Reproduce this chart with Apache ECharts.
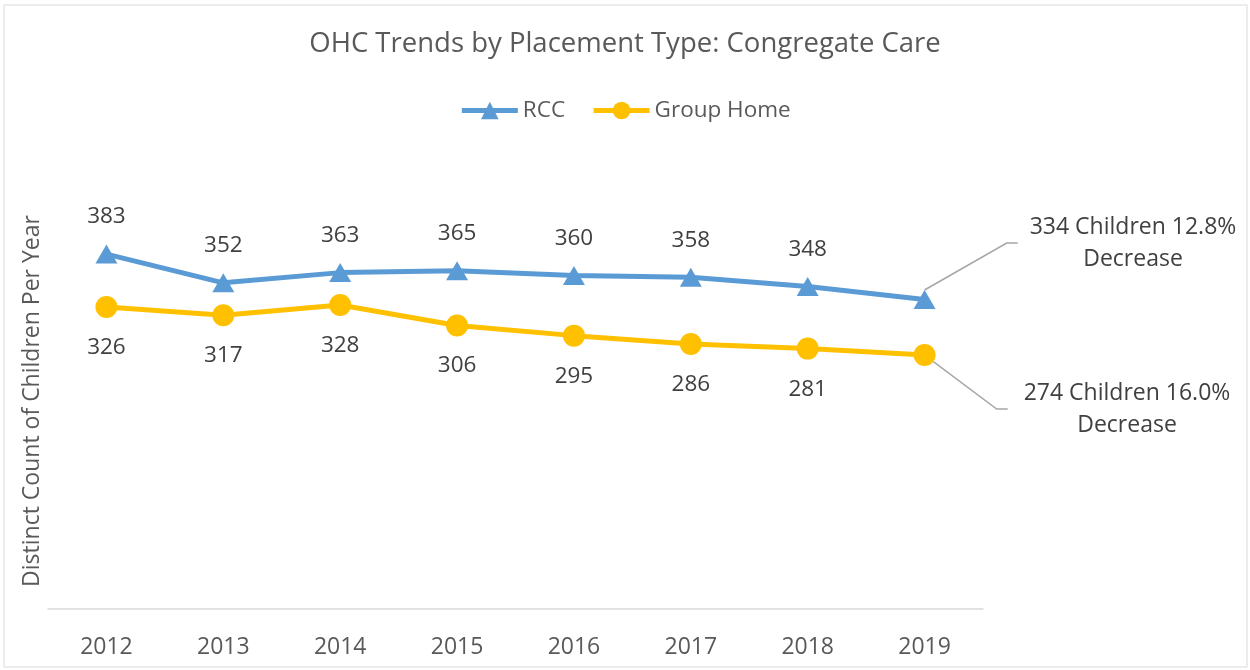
<!DOCTYPE html>
<html>
<head>
<meta charset="utf-8">
<script src="https://cdn.jsdelivr.net/npm/echarts@6/dist/echarts.min.js"></script>
<style>
  html, body { margin: 0; padding: 0; background: #fff; }
  #chart-container { width: 1250px; height: 670px; }
</style>
</head>
<body>
<div id="chart-container"></div>
<script>
// data
var years = ['2012', '2013', '2014', '2015', '2016', '2017', '2018', '2019'];
var rccValues = [383, 352, 363, 365, 360, 358, 348, 334];
var groupHomeValues = [326, 317, 328, 306, 295, 286, 281, 274];
var rccNote = '334 Children 12.8%\nDecrease';
var groupHomeNote = '274 Children 16.0%\nDecrease';

var textColor = '#595959';
var fontFamily = '"Open Sans", sans-serif';

var dom = document.getElementById('chart-container');
var myChart = echarts.init(dom, null, {
    renderer: 'canvas',
    useDirtyRect: false
});

// last point carries the callout text
function buildData(values, note, gap) {
    return values.map(function (v, i) {
        if (i === values.length - 1) {
            return {
                value: v,
                label: { formatter: note, align: 'center', lineHeight: 32, fontSize: 23, padding: [0, gap] },
                labelLine: { show: true, length2: 11, lineStyle: { color: '#A6A6A6', width: 1.5 } }
            };
        }
        return v;
    });
}

var option = {
    animation: false,
    textStyle: { fontFamily: fontFamily },
    title: {
        text: 'OHC Trends by Placement Type: Congregate Care',
        left: 'center',
        top: 25,
        textStyle: {
            fontFamily: fontFamily,
            fontSize: 27.5,
            fontWeight: 'normal',
            color: textColor
        }
    },
    legend: {
        top: 94,
        left: 'center',
        itemWidth: 56,
        itemHeight: 22,
        itemGap: 26,
        lineStyle: { width: 5 },
        textStyle: { fontFamily: fontFamily, fontSize: 22.5, color: textColor }
    },
    graphic: [
        {
            type: 'rect',
            shape: { x: 4, y: 5, width: 1243, height: 662 },
            style: { fill: 'none', stroke: '#D9D9D9', lineWidth: 1 },
            silent: true,
            z: -1
        },
        {
            type: 'text',
            x: 32,
            y: 401,
            rotation: Math.PI / 2,
            style: {
                text: 'Distinct Count of Children Per Year',
                fontFamily: fontFamily,
                fontSize: 23,
                fill: textColor,
                align: 'center',
                verticalAlign: 'middle'
            }
        }
    ],
    grid: {
        left: 48,
        right: 267,
        top: 53,
        bottom: 61
    },
    xAxis: {
        type: 'category',
        data: years,
        boundaryGap: true,
        axisLine: { lineStyle: { color: '#D9D9D9', width: 1.5 } },
        axisTick: { show: false },
        axisLabel: {
            margin: 27,
            fontSize: 23,
            color: textColor,
            fontFamily: fontFamily
        }
    },
    yAxis: {
        type: 'value',
        min: 0,
        max: 600,
        axisLine: { show: false },
        axisTick: { show: false },
        axisLabel: { show: false },
        splitLine: { show: false }
    },
    series: [
        {
            name: 'RCC',
            type: 'line',
            data: buildData(rccValues, rccNote, 12),
            symbol: 'triangle',
            symbolSize: [22, 19],
            itemStyle: { color: '#5B9BD5' },
            lineStyle: { color: '#5B9BD5', width: 5 },
            label: {
                show: true,
                position: 'top',
                distance: 16,
                fontSize: 22.5,
                color: '#404040',
                fontFamily: fontFamily
            },
            labelLayout: function (params) {
                if (params.dataIndex === rccValues.length - 1) {
                    return { x: 1133, y: 243, align: 'center', verticalAlign: 'middle' };
                }
            }
        },
        {
            name: 'Group Home',
            type: 'line',
            data: buildData(groupHomeValues, groupHomeNote, 16),
            symbol: 'circle',
            symbolSize: 22,
            itemStyle: { color: '#FFC000' },
            lineStyle: { color: '#FFC000', width: 5 },
            label: {
                show: true,
                position: 'bottom',
                distance: 18,
                fontSize: 22.5,
                color: '#404040',
                fontFamily: fontFamily
            },
            labelLayout: function (params) {
                if (params.dataIndex === groupHomeValues.length - 1) {
                    return { x: 1127, y: 409, align: 'center', verticalAlign: 'middle' };
                }
            }
        }
    ]
};

if (option && typeof option === 'object') {
    myChart.setOption(option);
}
</script>
</body>
</html>
